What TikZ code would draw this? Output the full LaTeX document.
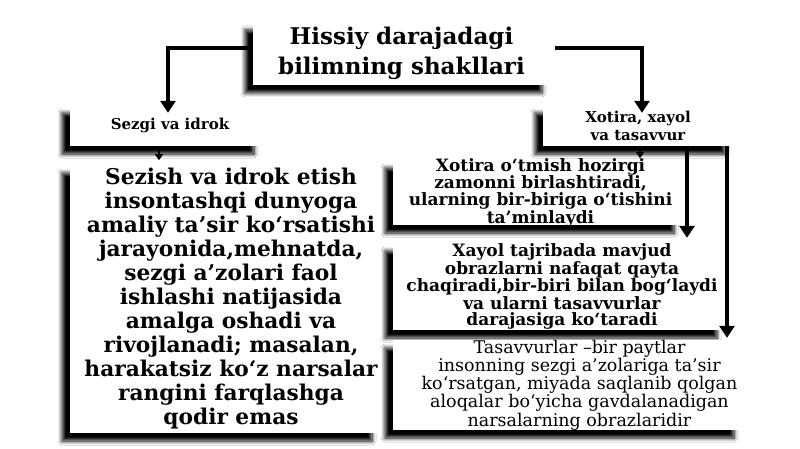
\documentclass[tikz,border=0pt]{standalone}
\usepackage{fontspec}
\setmainfont{DejaVu Serif}
\usetikzlibrary{arrows.meta,shadows.blur,positioning,calc}

\tikzset{
  box/.style={fill=white,inner sep=0pt,align=center,
    blur shadow={shadow xshift=-8pt,shadow yshift=-8pt,shadow blur radius=4pt,shadow blur steps=8,shadow opacity=100}},
  conn/.style={line width=4pt,-{Triangle[length=12pt,width=15pt]}},
  smallconn/.style={line width=2pt,-{Triangle[length=6pt,width=8pt]}}
}

\begin{document}
\begin{tikzpicture}[x=1pt,y=-1pt]
	\useasboundingbox[fill=white] (0,0) rectangle (800,449);
	\node at (401.5,53.5)[box,minimum width=297pt,minimum height=63pt,
	  font=\fontsize{23}{30}\selectfont\bfseries] (title)
	  {Hissiy darajadagi\\bilimning shakllari};
	\node at (166,125.5)[box,minimum width=192pt,minimum height=41pt,
	  label={[xshift=4pt,font=\fontsize{15}{18}\selectfont\bfseries]center:Sezgi va idrok}] (sezgi) {};
	\node at (638,125.5)[box,minimum width=190pt,minimum height=41pt,
	  font=\fontsize{15}{18}\selectfont\bfseries] (xotira)
	  {Xotira, xayol\\va tasavvur};
	\node at (225,299)[box,minimum width=310pt,minimum height=268pt,
	  label={[xshift=6pt,align=center,font=\fontsize{21.7}{24}\selectfont\bfseries]center:
	  Sezish va idrok etish\\ insontashqi dunyoga\\ amaliy ta’sir ko‘rsatishi\\
	  jarayonida,mehnatda,\\ sezgi a’zolari faol\\ ishlashi natijasida\\
	  amalga oshadi va\\ rivojlanadi; masalan,\\ harakatsiz ko‘z narsalar\\
	  rangini farqlashga\\ qodir emas}] (sezish) {};
	\node at (537.5,192.5)[box,minimum width=289pt,minimum height=65pt,
	  label={[xshift=3pt,align=center,font=\fontsize{17}{15.5}\selectfont\bfseries]center:
	  Xotira o‘tmish hozirgi\\ zamonni birlashtiradi,\\
	  ularning bir-biriga o‘tishini\\ ta’minlaydi}] (xotirabox) {};
	\node at (559,286.5)[box,minimum width=332pt,minimum height=87pt,
	  label={[xshift=3pt,align=center,font=\fontsize{17}{16}\selectfont\bfseries]center:
	  Xayol tajribada mavjud\\ obrazlarni nafaqat qayta\\
	  chaqiradi,bir-biri bilan bog‘laydi\\ va ularni tasavvurlar\\
	  darajasiga ko‘taradi}] (xayolbox) {};
	\node at (567.5,385)[box,minimum width=349pt,minimum height=90pt,
	  label={[xshift=12pt,align=center,font=\fontsize{17.5}{15.5}\selectfont]center:
	  Tasavvurlar –bir paytlar\\ insonning sezgi a’zolariga ta’sir\\
	  ko‘rsatgan, miyada saqlanib qolgan\\ aloqalar bo‘yicha gavdalanadigan\\
	  narsalarning obrazlaridir}] (tasavvurbox) {};
	% arrows
	\draw[conn] ([yshift=5.5pt]title.west) -| ([xshift=2pt,yshift=-8pt]sezgi.north);
	\draw[conn] ([xshift=5pt,yshift=5.5pt]title.east) -| ([xshift=4pt,yshift=-8pt]xotira.north);
	\draw[smallconn] ([xshift=-7pt]sezgi.south) -- ([xshift=-7pt,yshift=-14pt]sezgi.south);
	\draw[smallconn] ([xshift=2pt]xotira.south) -- ([xshift=2pt,yshift=-12pt]xotira.south);
	\draw[conn] ([xshift=49pt]xotira.south) -- ([xshift=49pt,yshift=5pt]xotira.south |- xayolbox.north);
	\draw[conn] ([xshift=89pt]xotira.south) -- ([xshift=89pt,yshift=2pt]xotira.south |- tasavvurbox.north);
\end{tikzpicture}
\end{document}
